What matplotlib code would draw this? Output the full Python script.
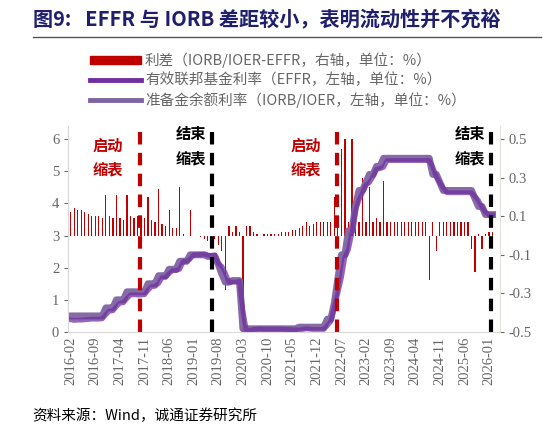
import matplotlib
matplotlib.use("Agg")
import matplotlib.pyplot as plt
import numpy as np
import pandas as pd
from matplotlib.lines import Line2D
from matplotlib.patches import Patch

plt.rcParams['font.family'] = ['Noto Sans CJK SC', 'DejaVu Sans']

months = pd.period_range("2016-02", "2026-02", freq="M")

# EFFR, left axis, %
effr = ([0.38, 0.36, 0.37, 0.37, 0.38, 0.39, 0.40, 0.40, 0.40, 0.41,
         0.54, 0.65, 0.66, 0.79, 0.90, 0.91, 1.04, 1.15, 1.16, 1.15, 1.15, 1.16,
         1.30, 1.41, 1.42, 1.51, 1.69, 1.70, 1.82, 1.91, 1.91, 1.95, 2.19, 2.20,
         2.27, 2.40, 2.40, 2.41, 2.42, 2.39, 2.38, 2.40, 2.13, 2.04, 1.83, 1.55,
         1.55, 1.55, 1.58, 0.65, 0.05, 0.05, 0.08, 0.09, 0.10, 0.09, 0.09, 0.09,
         0.09, 0.09, 0.09, 0.08, 0.08, 0.07, 0.07, 0.06, 0.08, 0.10, 0.09, 0.08,
         0.08, 0.08, 0.08, 0.20, 0.33, 0.77, 1.21, 1.68, 2.33, 2.56,
         3.08, 3.78, 4.10, 4.33, 4.57, 4.65, 4.83, 5.06, 5.08, 5.12]
        + [5.33] * 13
        + [5.13, 4.83, 4.64, 4.48] + [4.33] * 8 + [4.22, 4.09, 3.88, 3.72, 3.64, 3.64])

# IORB / IOER, left axis, %
iorb = ([0.50] * 10 + [0.75] * 3 + [1.00] * 3 + [1.25] * 6 + [1.50] * 3
        + [1.75] * 3 + [1.95] * 3 + [2.20] * 3 + [2.40] * 5 + [2.35] * 3
        + [2.10, 1.80, 1.55, 1.55, 1.60, 1.60, 1.60, 0.10] + [0.10] * 15 + [0.15] * 8
        + [0.40, 0.40, 0.90, 1.65, 2.40, 2.40, 3.15, 3.15, 3.90, 4.40, 4.40,
           4.65, 4.90, 4.90, 5.15, 5.15] + [5.40] * 14
        + [4.90, 4.90, 4.65, 4.40] + [4.40] * 8 + [4.15, 3.90, 3.90, 3.65, 3.65, 3.65])

# spread IORB - EFFR, right axis, %
spread = ([0.12, 0.14, 0.13, 0.13, 0.12, 0.11, 0.10, 0.10, 0.10, 0.09,
           0.21, 0.10, 0.09, 0.21, 0.09, 0.08, 0.21, 0.10, 0.09, 0.10, 0.09, 0.09,
           0.20, 0.08, 0.07, 0.24, 0.06, 0.05, 0.13, 0.04, 0.04, 0.25, 0.01, 0.0,
           0.13, 0.0, 0.0, -0.01, -0.02, -0.03, -0.03, -0.02, -0.05, -0.08,
           -0.28, 0.05, 0.02, 0.05, 0.02, -0.50, 0.05, 0.05, 0.02, 0.01, 0.0,
           0.01, 0.01, 0.01, 0.01, 0.01, 0.02, 0.02, 0.02, 0.03, 0.03, 0.04,
           0.05, 0.07, 0.05, 0.06, 0.07, 0.07, 0.07, 0.07, 0.07, 0.20, 0.07,
           0.45, 0.50, 0.07, 0.50, 0.07, 0.07, 0.30, 0.07, 0.25, 0.07, 0.09,
           0.07, 0.28] + [0.07] * 12
          + [-0.23, 0.07, -0.08, 0.07] + [0.07] * 8
          + [-0.07, -0.19, 0.01, -0.07, 0.01, 0.02, 0.02])[:len(months)]

labels = [str(m) for m in months]
x = np.arange(len(months))
qt_start = [19.6, 75.8]
qt_end = [40.3, 119.6]

fig = plt.figure(figsize=(5.46, 4.38), dpi=100)
ax = fig.add_axes([0.125, 0.242, 0.79, 0.47])
ax2 = ax.twinx()
ax.set_zorder(ax2.get_zorder() + 1)
ax.patch.set_visible(False)

ytop = 6.4
ax2.bar(x[:len(spread)], spread, width=0.35, color="#C00000")
ax2.set_ylim(-0.5, -0.5 + ytop / 6)
ax2.set_yticks([-0.5, -0.3, -0.1, 0.1, 0.3, 0.5])
ax2.set_yticklabels(["-0.5", "-0.3", "-0.1", "0.1", "0.3", "0.5"],
                    family="Liberation Serif")

ax.plot(x, iorb, color="#8064A2", lw=5, alpha=0.95, solid_joinstyle="round")
ax.plot(x, effr, color="#7030A0", lw=3.5, alpha=0.75, solid_joinstyle="round")
for xs in qt_start:
    ax.axvline(xs, color="#C00000", lw=3, ls=(0, (3, 2)))
for xe in qt_end:
    ax.axvline(xe, color="black", lw=3, ls=(0, (3, 2)))
ax.set_ylim(0, ytop)
ax.set_yticks(range(7))
ax.set_yticklabels([str(i) for i in range(7)], family="Liberation Serif")
ax.set_xlim(-0.7, 122)
ax.set_xticks(x[::7])
ax.set_xticklabels(labels[::7], rotation=90, family="Liberation Serif")

for a in (ax, ax2):
    for s in a.spines.values():
        s.set_visible(False)
    a.tick_params(colors="#666666", labelsize=10.5, length=3)
ax.spines["left"].set_visible(True)
ax.spines["left"].set_color("#D9D9D9")
ax.spines["bottom"].set_visible(True)
ax.spines["bottom"].set_color("#D9D9D9")
ax2.spines["right"].set_visible(True)
ax2.spines["right"].set_color("#E4E4D8")
ax.tick_params(axis="x", length=0)

for xs in qt_start:
    ax.text(xs - 9, 6.05, "启动\n缩表", color="#C00000", fontsize=11,
            fontweight="bold", ha="center", va="top", linespacing=1.6)
for xe in qt_end:
    ax.text(xe - 6, 6.4, "结束\n缩表", color="black", fontsize=11,
            fontweight="bold", ha="center", va="top", linespacing=1.6)

fig.text(0.06, 0.955, "图9:   EFFR 与 IORB 差距较小，表明流动性并不充裕",
         fontsize=14.5, fontweight="bold", color="#1F1F6E", va="center")
fig.add_artist(Line2D([0.06, 0.99], [0.915, 0.915], color="#555555", lw=1))

handles = [Patch(color="#C00000"),
           Line2D([], [], color="#7030A0", lw=3.5),
           Line2D([], [], color="#8064A2", lw=3.5)]
names = ["利差（IORB/IOER-EFFR，右轴，单位：%）",
         "有效联邦基金利率（EFFR，左轴，单位：%）",
         "准备金余额利率（IORB/IOER，左轴，单位：%）"]
leg = fig.legend(handles, names, loc="upper left", bbox_to_anchor=(0.14, 0.91),
                 frameon=False, fontsize=10.5, handlelength=3.5, handleheight=0.5,
                 labelspacing=0.3, handletextpad=0.3)
for t in leg.get_texts():
    t.set_color("#666666")

fig.text(0.06, 0.04, "资料来源：Wind，诚通证券研究所", fontsize=10.5, color="black")

fig.savefig("out.png", dpi=100)
